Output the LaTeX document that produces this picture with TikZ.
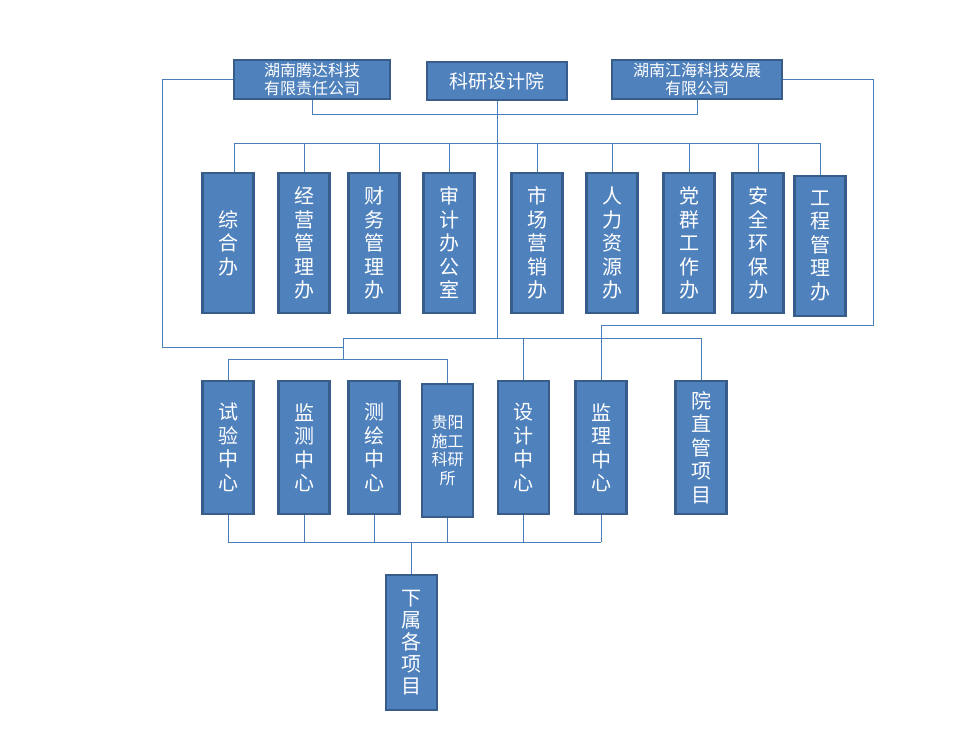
\documentclass[tikz,border=0pt]{standalone}
\usepackage{fontspec}
\newfontfamily\cjk{Noto Sans CJK SC}
\definecolor{boxblue}{HTML}{4F81BD}
\definecolor{boxedge}{HTML}{385D8A}
\definecolor{linkblue}{HTML}{4A7EBB}
\begin{document}
\begin{tikzpicture}[x=1pt,y=-1pt,
  unit/.style={draw=boxedge, fill=boxblue, line width=2.2pt, text=white,
    inner sep=0pt, align=center, font=\cjk\fontsize{20}{23.5}\selectfont},
  office/.style={unit, minimum width=51pt, minimum height=140pt},
  centre/.style={unit, minimum width=51pt, minimum height=133pt},
  link/.style={draw=linkblue, line width=0.9pt}]
\useasboundingbox (0,0) rectangle (960,755);
\node[unit, minimum width=156pt, minimum height=39pt,
      font=\cjk\fontsize{16}{18}\selectfont] (tengda) at (312,79.5) {湖南腾达科技\\有限责任公司};
\node[unit, minimum width=140pt, minimum height=38pt,
      font=\cjk\fontsize{19}{22}\selectfont] (yuan) at (497,81) {科研设计院};
\node[unit, minimum width=170pt, minimum height=39pt,
      font=\cjk\fontsize{16}{18}\selectfont] (jianghai) at (697,79.5) {湖南江海科技发展\\有限公司};
\node[office] (zonghe) at (228,243) {综\\合\\办};
\node[office] (jingying) at (304,243) {经\\营\\管\\理\\办};
\node[office] (caiwu) at (374,243) {财\\务\\管\\理\\办};
\node[office] (shenji) at (449,243) {审\\计\\办\\公\\室};
\node[office] (shichang) at (537,243) {市\\场\\营\\销\\办};
\node[office] (renli) at (612,243) {人\\力\\资\\源\\办};
\node[office] (dangqun) at (689,243) {党\\群\\工\\作\\办};
\node[office] (anquan) at (758,243) {安\\全\\环\\保\\办};
\node[office] (gongcheng) at (820,246) {工\\程\\管\\理\\办};
\node[centre] (shiyan) at (228,447.5) {试\\验\\中\\心};
\node[centre] (jiance) at (304,447.5) {监\\测\\中\\心};
\node[centre] (cehui) at (374,447.5) {测\\绘\\中\\心};
\node[centre, font=\cjk\fontsize{16}{18.5}\selectfont] (guiyang) at (447.5,450.5) {贵阳\\施工\\科研\\所};
\node[centre] (sheji) at (523.5,447.5) {设\\计\\中\\心};
\node[centre] (jianli) at (601,447.5) {监\\理\\中\\心};
\node[centre] (yuanzhi) at (701,447.5) {院\\直\\管\\项\\目};
\node[unit, minimum width=51pt, minimum height=135pt,
      font=\cjk\fontsize{20}{22}\selectfont] (xiashu) at (411.5,642.5) {下\\属\\各\\项\\目};
\coordinate (topbus) at (0,143);
\coordinate (midbus) at (0,338);
\coordinate (lowbus) at (0,359);
\coordinate (botbus) at (0,542);
\coordinate (leftturn) at (162,347);
\coordinate (rightturn) at (873,325);
\coordinate (midjoin) at (343,338);
\coordinate (zhdrop) at ([xshift=6pt]zonghe.north);
\coordinate (cwdrop) at ([xshift=5pt]caiwu.north);
\draw[link] (tengda.south) -- ++(0,14) -| (jianghai.south);
\draw[link] (yuan.south) -- (yuan.south |- midbus);
\draw[link] (zhdrop |- topbus) -- (gongcheng.north |- topbus);
\draw[link] (zhdrop) -- (zhdrop |- topbus);
\draw[link] (cwdrop) -- (cwdrop |- topbus);
\foreach \n in {jingying,shenji,shichang,renli,dangqun,anquan,gongcheng}
  \draw[link] (\n.north) -- (\n.north |- topbus);
\draw[link] (tengda.west) -| (leftturn) -- (leftturn -| midjoin);
\draw[link] (midjoin) -- (midjoin |- lowbus);
\draw[link] (shiyan.north) |- (guiyang.north |- lowbus) -- (guiyang.north);
\draw[link] (midjoin) -| (yuanzhi.north);
\draw[link] (sheji.north) -- (sheji.north |- midbus);
\draw[link] (jianghai.east) -| (rightturn) -| (jianli.north);
\foreach \n in {shiyan,jiance,cehui,guiyang,sheji,jianli}
  \draw[link] (\n.south) -- (\n.south |- botbus);
\draw[link] (shiyan.south |- botbus) -- (jianli.south |- botbus);
\draw[link] (xiashu.north) -- (xiashu.north |- botbus);
\end{tikzpicture}
\end{document}
